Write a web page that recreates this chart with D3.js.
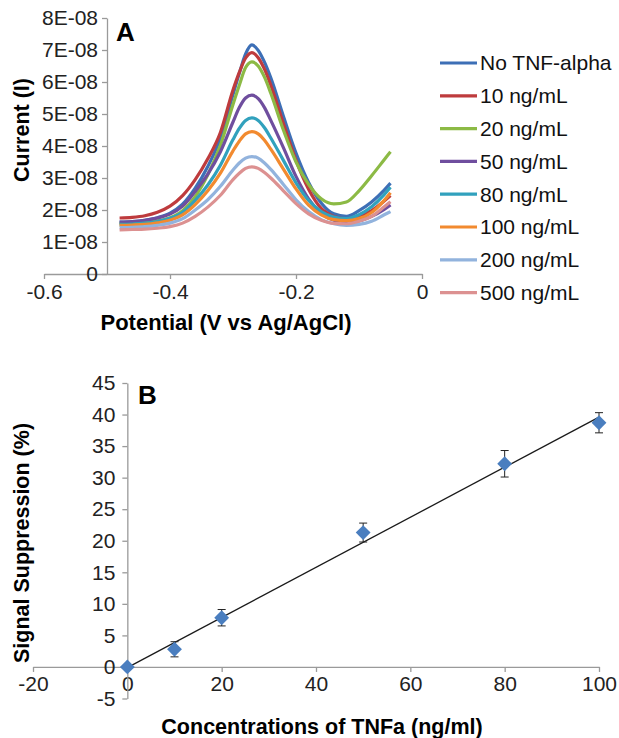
<!DOCTYPE html>
<html>
<head>
<meta charset="utf-8">
<script src="https://cdn.jsdelivr.net/npm/d3@7"></script>
<style>
  body { margin: 0; background: #fff; }
  svg { display: block; font-family: "Liberation Sans", Arial, sans-serif; }
  .tick text { fill: #222; }
</style>
</head>
<body>
<svg id="chart" width="619" height="738"></svg>
<script>
// Panel A: square wave voltammograms (current in units of 1E-08)
const potential = [-0.48,-0.46,-0.44,-0.42,-0.40,-0.38,-0.36,-0.34,-0.32,-0.30,-0.29,-0.28,-0.27,-0.26,-0.25,-0.24,-0.22,-0.20,-0.18,-0.16,-0.14,-0.12,-0.10,-0.08,-0.06,-0.05]
const noTnf   = [1.62,1.64,1.68,1.76,1.90,2.18,2.68,3.36,4.25,5.61,6.27,6.88,7.16,6.99,6.62,6.13,4.93,3.78,2.86,2.22,1.88,1.80,1.98,2.25,2.62,2.84]
const c10     = [1.75,1.77,1.82,1.93,2.12,2.45,2.95,3.60,4.42,5.75,6.30,6.75,6.92,6.76,6.40,5.90,4.70,3.55,2.65,2.05,1.80,1.72,1.80,1.98,2.28,2.45]
const c20     = [1.58,1.59,1.61,1.66,1.76,1.98,2.42,3.10,4.02,5.30,5.90,6.45,6.63,6.50,6.15,5.65,4.50,3.50,2.80,2.35,2.19,2.25,2.60,3.07,3.57,3.82]
const c50     = [1.62,1.64,1.68,1.75,1.87,2.12,2.58,3.12,3.82,4.75,5.20,5.50,5.59,5.48,5.20,4.80,3.95,3.05,2.35,1.90,1.68,1.62,1.66,1.80,2.02,2.16]
const c80     = [1.55,1.56,1.59,1.64,1.74,1.93,2.30,2.78,3.40,4.20,4.55,4.80,4.88,4.80,4.57,4.25,3.55,2.85,2.30,1.95,1.78,1.73,1.85,2.10,2.48,2.71]
const c100    = [1.52,1.53,1.55,1.60,1.68,1.85,2.17,2.60,3.15,3.85,4.15,4.38,4.45,4.38,4.18,3.90,3.28,2.66,2.15,1.85,1.70,1.67,1.73,1.92,2.30,2.54]
const c200    = [1.45,1.46,1.48,1.52,1.59,1.73,2.00,2.32,2.74,3.25,3.47,3.62,3.67,3.62,3.47,3.27,2.80,2.32,1.95,1.70,1.57,1.52,1.55,1.65,1.85,1.95]
const c500    = [1.38,1.39,1.40,1.43,1.48,1.59,1.80,2.09,2.46,2.95,3.15,3.30,3.35,3.30,3.17,3.00,2.60,2.20,1.88,1.68,1.58,1.57,1.65,1.80,2.10,2.26]
const seriesNames = ['No TNF-alpha','10 ng/mL','20 ng/mL','50 ng/mL','80 ng/mL','100 ng/mL','200 ng/mL','500 ng/mL']
const seriesColors = ['#3d6fb6','#be3b3d','#8cba45','#6f4e9e','#31a1bd','#f28a2f','#92b3dd','#dc9191']
const xTicksA = [-0.6,-0.4,-0.2,0]
const yTicksA = [0,1,2,3,4,5,6,7,8]

// Panel B: signal suppression vs concentration
const conc = [0,10,20,50,80,100]
const suppression = [0,2.8,7.8,21.3,32.2,38.7]
const suppErr = [0.3,1.2,1.3,1.5,2.1,1.6]
const trendX = [0,100]
const trendY = [-0.1,39.6]
const xTicksB = [-20,0,20,40,60,80,100]
const yTicksB = [-5,0,5,10,15,20,25,30,35,40,45]

const svg = d3.select('#chart')
const axisColor = '#9a9a9a'

function styleAxis(g) {
    g.select('.domain').attr('stroke', axisColor).attr('stroke-width', 1.3)
    g.selectAll('.tick line').attr('stroke', axisColor).attr('stroke-width', 1.3)
    g.selectAll('.tick text').attr('font-size', 21).attr('fill', '#222')
}

/* ---------- Panel A ---------- */
const xA = d3.scaleLinear().domain([-0.6, 0]).range([44, 422])
const yA = d3.scaleLinear().domain([0, 8]).range([274, 18])

const gA = svg.append('g')
gA.append('g')
    .attr('transform', `translate(0,${yA(0)})`)
    .call(d3.axisBottom(xA).tickValues(xTicksA).tickSize(5).tickSizeOuter(0).tickPadding(5)
        .tickFormat(d => d === 0 ? '0' : d.toFixed(1)))
    .call(styleAxis)
gA.append('g')
    .attr('transform', `translate(${xA(-0.5)},0)`)
    .call(d3.axisLeft(yA).tickValues(yTicksA).tickSize(5).tickSizeOuter(0).tickPadding(4)
        .tickFormat(d => d === 0 ? '0' : d + 'E-08'))
    .call(styleAxis)

const curves = [noTnf, c10, c20, c50, c80, c100, c200, c500]
const lineA = d3.line()
    .x((d, i) => xA(potential[i]))
    .y(d => yA(d))
    .curve(d3.curveMonotoneX)

gA.selectAll('path.curve')
    .data(curves)
    .enter().append('path')
    .attr('class', 'curve')
    .attr('d', lineA)
    .attr('fill', 'none')
    .attr('stroke', (d, i) => seriesColors[i])
    .attr('stroke-width', 3.2)
    .attr('stroke-linejoin', 'round')

// legend
const legend = gA.selectAll('g.leg')
    .data(seriesNames)
    .enter().append('g')
    .attr('class', 'leg')
    .attr('transform', (d, i) => `translate(440,${63 + i * 32.8})`)
legend.append('line')
    .attr('x1', 0).attr('x2', 37)
    .attr('stroke', (d, i) => seriesColors[i])
    .attr('stroke-width', 3.2)
legend.append('text')
    .attr('x', 40).attr('dy', '0.35em')
    .attr('font-size', 21)
    .attr('fill', '#111')
    .text(d => d)

gA.append('text').attr('x', 116).attr('y', 41)
    .attr('font-size', 26).attr('font-weight', 'bold').text('A')
gA.append('text').attr('x', 226).attr('y', 330)
    .attr('text-anchor', 'middle').attr('font-size', 22).attr('font-weight', 'bold')
    .text('Potential (V vs Ag/AgCl)')
gA.append('text')
    .attr('transform', 'translate(29,130) rotate(-90)')
    .attr('text-anchor', 'middle').attr('font-size', 21.5).attr('font-weight', 'bold')
    .text('Current (I)')

/* ---------- Panel B ---------- */
const xB = d3.scaleLinear().domain([-20, 100]).range([33, 599])
const yB = d3.scaleLinear().domain([-5, 45]).range([698.5, 383])

const gB = svg.append('g')
gB.append('g')
    .attr('transform', `translate(0,${yB(0)})`)
    .call(d3.axisBottom(xB).tickValues(xTicksB).tickSize(5).tickSizeOuter(0).tickPadding(4)
        .tickFormat(d => String(d)))
    .call(styleAxis)
gB.append('g')
    .attr('transform', `translate(${xB(0)},0)`)
    .call(d3.axisLeft(yB).tickValues(yTicksB).tickSize(5).tickSizeOuter(0).tickPadding(7)
        .tickFormat(d => String(d)))
    .call(styleAxis)

// trend line
gB.append('line')
    .attr('x1', xB(trendX[0])).attr('y1', yB(trendY[0]))
    .attr('x2', xB(trendX[1])).attr('y2', yB(trendY[1]))
    .attr('stroke', '#1a1a1a').attr('stroke-width', 1.3)

const pts = conc.map((c, i) => ({x: c, y: suppression[i], e: suppErr[i]}))
const err = gB.selectAll('g.err').data(pts).enter().append('g').attr('class', 'err')
err.append('line')
    .attr('x1', d => xB(d.x)).attr('x2', d => xB(d.x))
    .attr('y1', d => yB(d.y - d.e)).attr('y2', d => yB(d.y + d.e))
    .attr('stroke', '#222').attr('stroke-width', 1)
err.append('line')
    .attr('x1', d => xB(d.x) - 4).attr('x2', d => xB(d.x) + 4)
    .attr('y1', d => yB(d.y + d.e)).attr('y2', d => yB(d.y + d.e))
    .attr('stroke', '#222').attr('stroke-width', 1)
err.append('line')
    .attr('x1', d => xB(d.x) - 4).attr('x2', d => xB(d.x) + 4)
    .attr('y1', d => yB(d.y - d.e)).attr('y2', d => yB(d.y - d.e))
    .attr('stroke', '#222').attr('stroke-width', 1)

gB.selectAll('path.pt').data(pts).enter().append('path')
    .attr('class', 'pt')
    .attr('d', d3.symbol(d3.symbolSquare, 110))
    .attr('transform', d => `translate(${xB(d.x)},${yB(d.y)}) rotate(45)`)
    .attr('fill', '#4a7ebf')

gB.append('text').attr('x', 138).attr('y', 404)
    .attr('font-size', 26).attr('font-weight', 'bold').text('B')
gB.append('text').attr('x', 322).attr('y', 734)
    .attr('text-anchor', 'middle').attr('font-size', 21.5).attr('font-weight', 'bold')
    .text('Concentrations of TNFa (ng/ml)')
gB.append('text')
    .attr('transform', 'translate(29,543) rotate(-90)')
    .attr('text-anchor', 'middle').attr('font-size', 21.5).attr('font-weight', 'bold')
    .text('Signal Suppression (%)')
</script>
</body>
</html>
